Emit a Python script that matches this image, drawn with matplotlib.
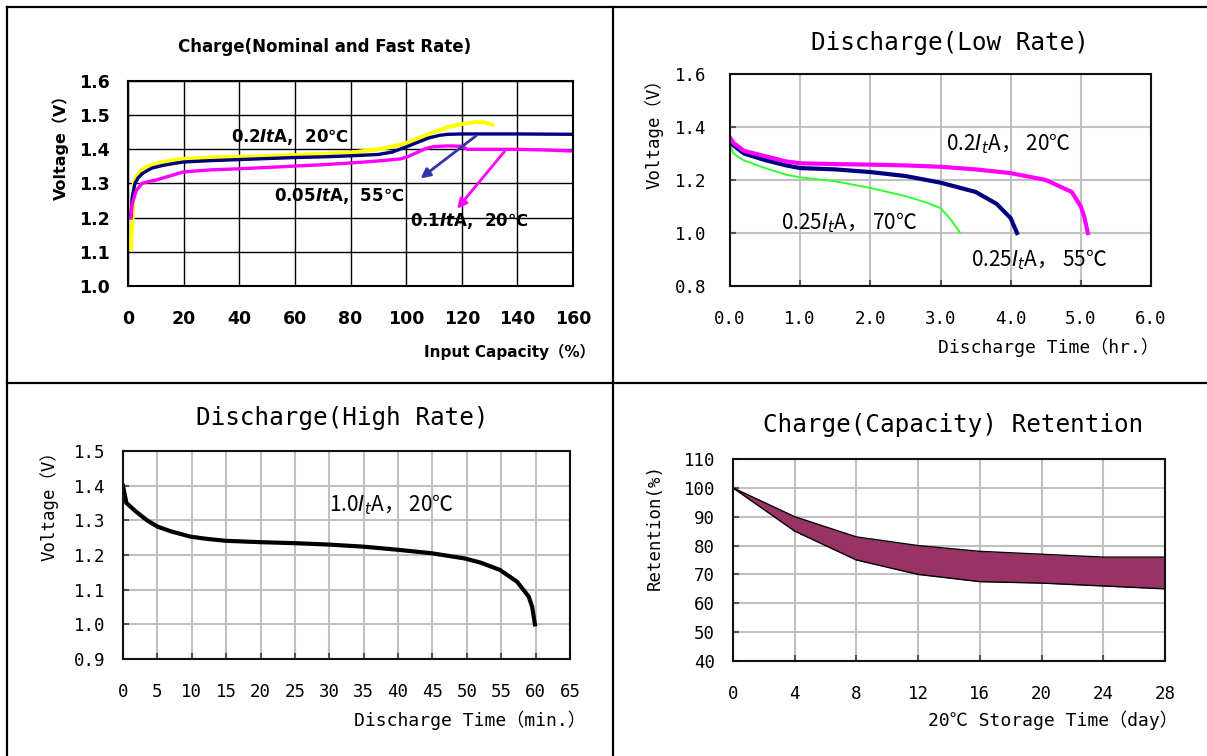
import matplotlib
matplotlib.use('Agg')
import matplotlib.pyplot as plt
from matplotlib.lines import Line2D

plt.rcParams['mathtext.fontset'] = 'dejavusans'

W, H = 1207, 756

# --- Charge (Nominal and Fast Rate) ---
yel_x = [1, 1.5, 2.2, 3, 5, 7, 9, 12, 16, 20, 30, 40, 50, 60, 70, 80, 90, 95, 100, 105, 110, 115, 120, 125, 128, 131]
yel_y = [1.11, 1.18, 1.30, 1.32, 1.34, 1.35, 1.355, 1.362, 1.368, 1.372, 1.376, 1.378, 1.38, 1.383, 1.386, 1.39, 1.40, 1.408, 1.418, 1.435, 1.45, 1.465, 1.474, 1.48, 1.479, 1.472]
navy_x = [1, 1.5, 2.5, 3.6, 5, 7, 8.6, 12, 16, 20, 30, 40, 50, 60, 70, 80, 90, 95, 100, 104, 108, 112, 115, 120, 140, 160]
navy_y = [1.20, 1.26, 1.30, 1.316, 1.328, 1.338, 1.345, 1.352, 1.358, 1.363, 1.367, 1.37, 1.373, 1.376, 1.378, 1.381, 1.385, 1.392, 1.407, 1.42, 1.433, 1.441, 1.444, 1.445, 1.445, 1.444]
mag_x = [1, 1.5, 3, 5, 7, 10, 15, 20, 30, 40, 50, 60, 70, 80, 90, 98, 101, 103.7, 107, 110, 115, 120, 122, 130, 140, 150, 160]
mag_y = [1.20, 1.24, 1.28, 1.30, 1.305, 1.31, 1.322, 1.334, 1.34, 1.343, 1.347, 1.351, 1.355, 1.36, 1.366, 1.372, 1.38, 1.39, 1.402, 1.408, 1.41, 1.409, 1.40, 1.40, 1.40, 1.398, 1.395]

# --- Discharge (Low Rate) ---
low_mag_x = [0, 0.05, 0.2, 0.5, 0.8, 1.0, 1.5, 2.0, 2.5, 3.0, 3.5, 4.0, 4.5, 4.87, 5.0, 5.05, 5.1]
low_mag_y = [1.36, 1.34, 1.31, 1.29, 1.27, 1.263, 1.26, 1.258, 1.255, 1.25, 1.24, 1.226, 1.20, 1.155, 1.10, 1.06, 1.00]
low_navy_x = [0, 0.05, 0.2, 0.5, 0.8, 1.0, 1.5, 2.0, 2.5, 3.0, 3.5, 3.8, 4.0, 4.09]
low_navy_y = [1.35, 1.33, 1.30, 1.275, 1.255, 1.245, 1.24, 1.23, 1.215, 1.19, 1.155, 1.11, 1.056, 1.00]
low_grn_x = [0, 0.05, 0.19, 0.5, 0.8, 1.0, 1.5, 2.0, 2.49, 2.8, 3.0, 3.15, 3.28]
low_grn_y = [1.33, 1.30, 1.275, 1.245, 1.22, 1.21, 1.195, 1.17, 1.14, 1.115, 1.094, 1.05, 1.00]

# --- Discharge (High Rate) ---
hi_x = [0, 0.5, 1.9, 3.5, 5.0, 7.0, 9.8, 12, 14.9, 20, 25.1, 30, 35, 40, 44.9, 49.7, 52, 54.8, 57.3, 59, 59.5, 59.9]
hi_y = [1.399, 1.35, 1.325, 1.30, 1.282, 1.268, 1.253, 1.247, 1.241, 1.237, 1.234, 1.23, 1.224, 1.215, 1.205, 1.19, 1.178, 1.157, 1.123, 1.08, 1.05, 1.00]

# --- Charge (Capacity) Retention ---
ret_days = [0, 4, 8, 12, 16, 20, 24, 28]
ret_upper = [100, 90, 83, 80, 78, 77, 76, 76]
ret_lower = [100, 85, 75, 70, 67.5, 67, 66, 65]


def rect(l, t, r, b):
    return [l / W, 1 - b / H, (r - l) / W, (b - t) / H]


def fx(x):
    return x / W


def fy(y):
    return 1 - y / H


fig = plt.figure(figsize=(W / 100, H / 100), dpi=100)

sans_b = ['DejaVu Sans', 'Noto Sans CJK JP']
mono = ['DejaVu Sans Mono', 'Noto Sans CJK JP']

# ---------------- panel 1 ----------------
ax1 = fig.add_axes(rect(128, 81, 573, 286))
ax1.plot(yel_x, yel_y, color='#ffff00', lw=3)
ax1.plot(navy_x, navy_y, color='#000080', lw=2.4)
ax1.plot(mag_x, mag_y, color='#ff00ff', lw=2.4)
ax1.set_xlim(0, 160)
ax1.set_ylim(1.0, 1.6)
ax1.set_xticks(range(0, 161, 20))
ax1.set_yticks([1.0, 1.1, 1.2, 1.3, 1.4, 1.5, 1.6])
ax1.set_yticklabels(['1.0', '1.1', '1.2', '1.3', '1.4', '1.5', '1.6'])
ax1.grid(True, color='black', lw=1)
ax1.set_axisbelow(True)
ax1.tick_params(length=0, labelsize=12.5)
ax1.tick_params(axis='x', pad=17)
ax1.tick_params(axis='y', pad=13)
for lab in ax1.get_xticklabels() + ax1.get_yticklabels():
    lab.set_fontweight('bold')
    lab.set_family(sans_b)
for s in ax1.spines.values():
    s.set_linewidth(1.5)
ax1.annotate('', xy=(104.4, 1.31), xytext=(126, 1.445),
             arrowprops=dict(arrowstyle='-|>', color='#3333aa', lw=2, mutation_scale=14))
ax1.annotate('', xy=(117.7, 1.22), xytext=(136, 1.40),
             arrowprops=dict(arrowstyle='-|>', color='#ff00ff', lw=2, mutation_scale=14))
ax1.text(37, 1.435, r'0.2$\mathbfit{It}$A,  20℃', fontsize=12, fontweight='bold', family='DejaVu Sans', va='center')
ax1.text(52.5, 1.263, r'0.05$\mathbfit{It}$A,  55℃', fontsize=12, fontweight='bold', family='DejaVu Sans', va='center')
ax1.text(101.5, 1.19, r'0.1$\mathbfit{It}$A,  20℃', fontsize=12, fontweight='bold', family='DejaVu Sans', va='center')
fig.text(fx(325), fy(47), 'Charge(Nominal and Fast Rate)', fontsize=12, fontweight='bold', family=sans_b,
         ha='center', va='center')
fig.text(fx(61), fy(143), 'Voltage（V）', fontsize=11.5, fontweight='bold', family=sans_b,
         rotation=90, ha='center', va='center')
fig.text(fx(595), fy(352), 'Input Capacity（%）', fontsize=11, fontweight='bold', family=sans_b,
         ha='right', va='center')


def style_gray(ax, ypad):
    ax.grid(True, color='#c0c0c0', lw=1.5)
    ax.set_axisbelow(True)
    ax.tick_params(direction='in', length=4, width=1.5, color='#555555', labelsize=12.5)
    ax.tick_params(axis='x', pad=17)
    ax.tick_params(axis='y', pad=ypad)
    for lab in ax.get_xticklabels() + ax.get_yticklabels():
        lab.set_family(mono)
    for s in ax.spines.values():
        s.set_linewidth(1.5)
        s.set_color('#111111')


# ---------------- panel 2 ----------------
ax2 = fig.add_axes(rect(730, 74, 1151, 286))
ax2.plot(low_grn_x, low_grn_y, color='#33ff33', lw=1.4)
ax2.plot(low_navy_x, low_navy_y, color='#000080', lw=3)
ax2.plot(low_mag_x, low_mag_y, color='#ff00ff', lw=3)
ax2.set_xlim(0, 6)
ax2.set_ylim(0.8, 1.6)
ax2.set_xticks([0, 1, 2, 3, 4, 5, 6])
ax2.set_xticklabels(['0.0', '1.0', '2.0', '3.0', '4.0', '5.0', '6.0'])
ax2.set_yticks([0.8, 1.0, 1.2, 1.4, 1.6])
ax2.set_yticklabels(['0.8', '1.0', '1.2', '1.4', '1.6'])
style_gray(ax2, 17)
ax2.text(3.08, 1.336, r'0.2$I_t$A， 20℃', fontsize=15, family='Noto Sans CJK JP', va='center')
ax2.text(0.73, 1.04, r'0.25$I_t$A， 70℃', fontsize=15, family='Noto Sans CJK JP', va='center')
ax2.text(3.43, 0.90, r'0.25$I_t$A， 55℃', fontsize=15, family='Noto Sans CJK JP', va='center')
fig.text(fx(950), fy(43), 'Discharge(Low Rate)', fontsize=17.5, family=mono, ha='center', va='center')
fig.text(fx(654), fy(130), 'Voltage（V）', fontsize=12.5, family=mono, rotation=90, ha='center', va='center')
fig.text(fx(1159), fy(347), 'Discharge Time（hr.）', fontsize=13, family=mono, ha='right', va='center')

# ---------------- panel 3 ----------------
ax3 = fig.add_axes(rect(123, 451, 570, 659))
ax3.plot(hi_x, hi_y, color='black', lw=3)
ax3.set_xlim(0, 65)
ax3.set_ylim(0.9, 1.5)
ax3.set_xticks(range(0, 66, 5))
ax3.set_yticks([0.9, 1.0, 1.1, 1.2, 1.3, 1.4, 1.5])
ax3.set_yticklabels(['0.9', '1.0', '1.1', '1.2', '1.3', '1.4', '1.5'])
style_gray(ax3, 13)
ax3.text(30, 1.344, r'1.0$I_t$A， 20℃', fontsize=15, family='Noto Sans CJK JP', va='center')
fig.text(fx(342), fy(418), 'Discharge(High Rate)', fontsize=17.5, family=mono, ha='center', va='center')
fig.text(fx(49), fy(502), 'Voltage（V）', fontsize=12.5, family=mono, rotation=90, ha='center', va='center')
fig.text(fx(586), fy(720), 'Discharge Time（min.）', fontsize=13, family=mono, ha='right', va='center')

# ---------------- panel 4 ----------------
ax4 = fig.add_axes(rect(733, 459, 1165, 661))
ax4.fill_between(ret_days, ret_lower, ret_upper, color='#993366', lw=0)
ax4.plot(ret_days, ret_upper, color='black', lw=1)
ax4.plot(ret_days, ret_lower, color='black', lw=1)
ax4.set_xlim(0, 28)
ax4.set_ylim(40, 110)
ax4.set_xticks(ret_days)
ax4.set_yticks(range(40, 111, 10))
style_gray(ax4, 13)
fig.text(fx(953), fy(425), 'Charge(Capacity) Retention', fontsize=17.5, family=mono, ha='center', va='center')
fig.text(fx(655), fy(527), 'Retention(%)', fontsize=12.5, family=mono, rotation=90, ha='center', va='center')
fig.text(fx(1178), fy(720), '20℃ Storage Time（day）', fontsize=13, family=mono, ha='right', va='center')

# frame / dividers
for xs, ys in [([7, 7], [7, H]), ([7, W], [7, 7]), ([613, 613], [7, H]), ([7, W], [383, 383])]:
    fig.add_artist(Line2D([fx(v) for v in xs], [fy(v) for v in ys], color='black', lw=1.6))

fig.savefig('out.png', dpi=100)
